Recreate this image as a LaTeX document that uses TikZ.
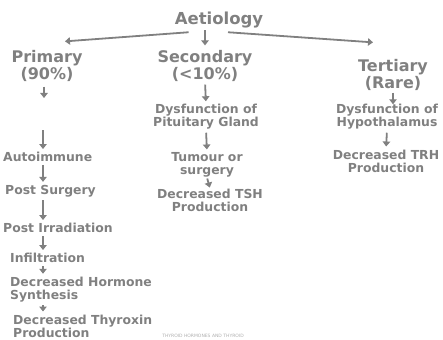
\documentclass[tikz,border=0pt]{standalone}
\usepackage{fontspec}
\setmainfont{DejaVu Sans}
\usetikzlibrary{arrows.meta}
\definecolor{tg}{RGB}{128,128,128}
\definecolor{tl}{RGB}{175,175,175}
\begin{document}
\begin{tikzpicture}[x=1pt,y=-1pt,
  every node/.style={text=tg,font=\bfseries\fontsize{12.4}{13}\selectfont,inner sep=0pt,align=center},
  head/.style={font=\bfseries\fontsize{16}{14.5}\selectfont},
  title/.style={font=\bfseries\fontsize{16.5}{18}\selectfont},
  lcol/.style={anchor=west,align=left},
  arr/.style={draw=tg,line width=1.8pt,-{Triangle[width=7.5pt,length=5pt]}},
  gap/.style={shorten <=3pt,shorten >=3pt}]
\useasboundingbox (0,0) rectangle (443,339);
% headings
\node[title] (aet) at (219,20) {Aetiology};
\node[head] (pri) at (47,66) {Primary\\(90\%)};
\node[head] (sec) at (205,66) {Secondary\\(<10\%)};
\node[head] (ter) at (393,75) {Tertiary\\(Rare)};
\draw[arr] ([shift={(14,4)}]aet.south west) -- ([shift={(18,-9)}]pri.north);
\draw[arr] ([shift={(9,4)}]aet.south) -- ([shift={(-20,-17)}]ter.north);
\draw[arr] ([shift={(-14,2)}]aet.south) -- ([shift={(0,-5)}]sec.north);
% secondary
\node (dys) at (206,117) {Dysfunction of\\Pituitary Gland};
\node (tum) at (207,165) {Tumour or\\surgery};
\node (tsh) at (210,200) {Decreased TSH\\Production};
\draw[arr,gap] (sec.south) -- (dys.north);
\draw[arr,gap] (dys.south) -- (tum.north);
\draw[arr,shorten <=1pt,shorten >=1pt] (tum.south) -- (tsh.north);
% tertiary
\node (dyh) at (387,117) {Dysfunction of\\Hypothalamus};
\node (trh) at (386,161) {Decreased TRH\\Production};
\draw[arr,shorten <=2pt] (ter.south) -- (ter.south |- dyh.north);
\draw[arr,gap] (dyh.south) -- (trh.north);
% primary
\coordinate (px) at (43,0);
\coordinate (pb) at (44,98);
\coordinate (pa) at (43,130);
\node[lcol] (auto) at (3,157) {Autoimmune};
\node[lcol] (ps) at (5,191) {Post Surgery};
\node[lcol] (pi) at (3,228) {Post Irradiation};
\node[lcol] (inf) at (10,258) {Infiltration};
\node[lcol] (dhs) at (10,289.5) {Decreased Hormone\\Synthesis};
\node[lcol] (dtp) at (13,326) {Decreased Thyroxin\\Production};
\draw[arr,shorten <=5pt] (pri.south -| pb) -- (pb);
\draw[arr,shorten >=3pt] (pa) -- (auto.north -| px);
\draw[arr,gap] (auto.south -| px) -- (ps.north -| px);
\draw[arr,gap] (ps.south -| px) -- (pi.north -| px);
\draw[arr,gap] (pi.south -| px) -- (inf.north -| px);
\draw[arr,gap] (inf.south -| px) -- (dhs.north -| px);
\draw[arr,gap] (dhs.south -| px) -- (dtp.north -| px);
% footer
\node[text=tl,font=\fontsize{4.5}{5}\selectfont] (foot) at (203,336) {THYROID HORMONES AND THYROID};
\end{tikzpicture}
\end{document}
